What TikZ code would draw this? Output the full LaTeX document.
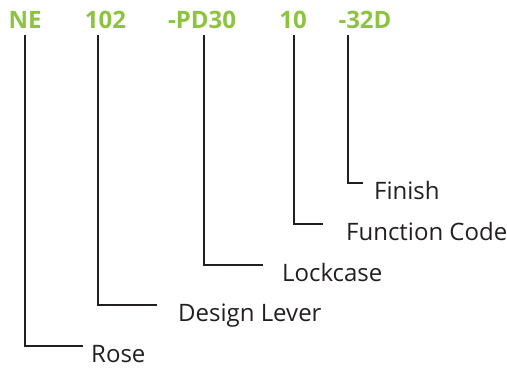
\documentclass[tikz,border=0pt]{standalone}
\usepackage{fontspec}
\setmainfont{Open Sans}
\usepackage{tikz}
\definecolor{codegreen}{HTML}{8CC43F}
\definecolor{leadgray}{HTML}{231F20}

\begin{document}
\begin{tikzpicture}[x=1pt,y=1pt,
    code/.style={font=\fontsize{24}{28}\selectfont\bfseries, text=codegreen, anchor=base, inner sep=0pt},
    part/.style={font=\fontsize{24}{28}\selectfont, text=leadgray, anchor=base west, inner sep=0pt},
    lead/.style={draw=leadgray, line width=2.4pt}]
    \useasboundingbox (0,0) rectangle (507,368);
    % the code
        \node[code] (ne) at (25,340) {NE};
        \node[code] (c102) at (105.5,340) {102};
        \node[code] (pd30) at (202,340) {-PD30};
        \node[code] (c10) at (293,340) {10};
        \node[code] (d32) at (365,340) {-32D};
    % what each part means
        \node[part] (rose) at (91,6) {Rose};
        \node[part] (lever) at (178,47) {Design Lever};
        \node[part] (lockcase) at (282,87) {Lockcase};
        \node[part] (function) at (346,128) {Function Code};
        \node[part] (finish) at (374,169) {Finish};
    % leaders
        \draw[lead] ([yshift=-7pt]ne.base) |- ([shift={(-8pt,16pt)}]rose.base west);
        \draw[lead] ([shift={(-7.5pt,-7pt)}]c102.base) |- ([shift={(-21pt,16pt)}]lever.base west);
        \draw[lead] ([shift={(2pt,-7pt)}]pd30.base) |- ([shift={(-19pt,16pt)}]lockcase.base west);
        \draw[lead] ([shift={(1pt,-7pt)}]c10.base) |- ([shift={(-23pt,16pt)}]function.base west);
        \draw[lead] ([shift={(-17pt,-7pt)}]d32.base) |- ([shift={(-11pt,16pt)}]finish.base west);
\end{tikzpicture}
\end{document}
